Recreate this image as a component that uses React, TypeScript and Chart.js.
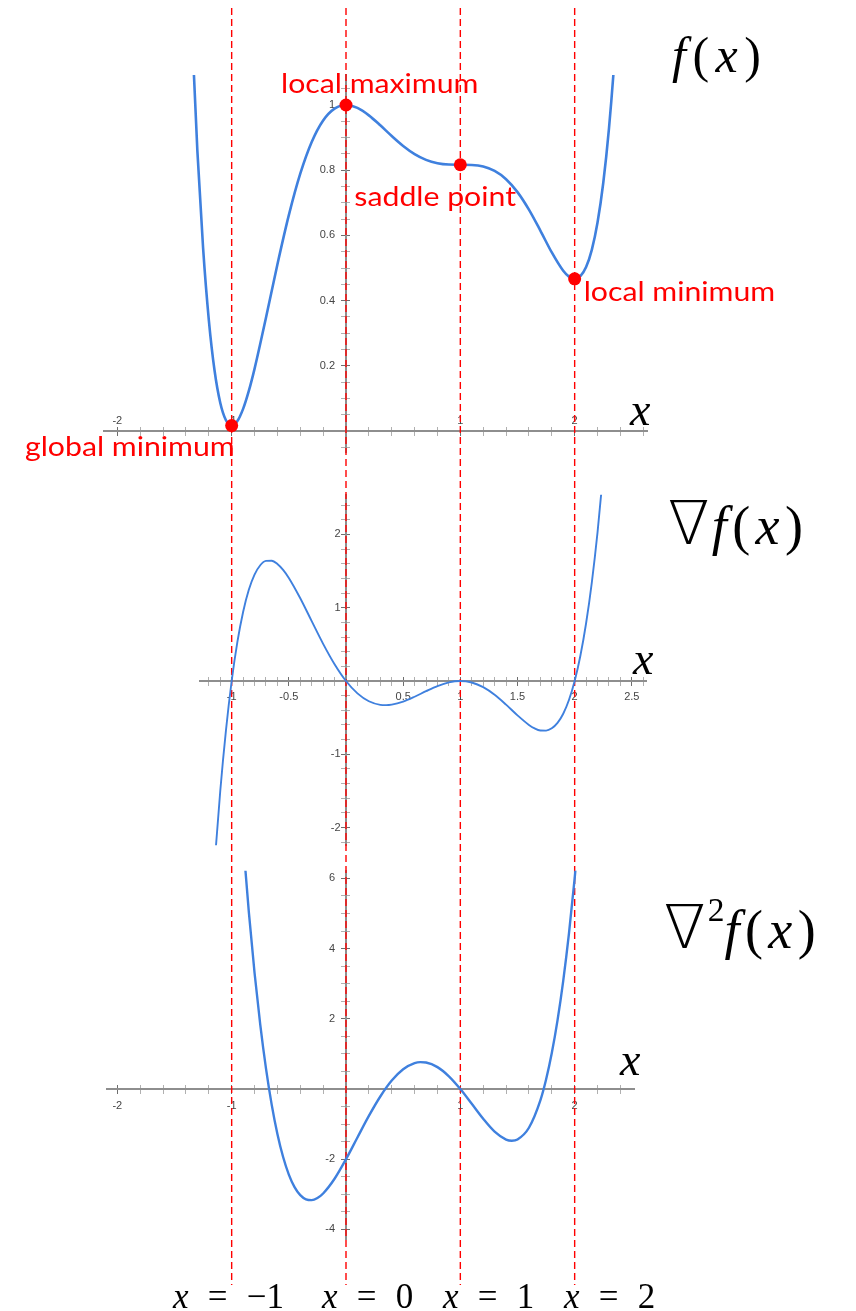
import React, { useEffect, useRef } from 'react';
import { Chart, registerables } from 'chart.js';

Chart.register(...registerables);

// ---------------- data ----------------

// f(x) sampled along x
const F_X = [-1.4, -1.35, -1.3, -1.25, -1.2, -1.15, -1.1, -1.05, -1, -0.95, -0.9, -0.85, -0.8, -0.7, -0.6, -0.5, -0.4, -0.3, -0.2, -0.1, 0, 0.1, 0.2, 0.3, 0.4, 0.5, 0.6, 0.7, 0.8, 0.9, 1, 1.1, 1.2, 1.3, 1.4, 1.5, 1.6, 1.7, 1.8, 1.9, 1.95, 2, 2.05, 2.1, 2.15, 2.2, 2.25, 2.3, 2.35, 2.4];
const F_Y = [1.7383, 1.2468, 0.8593, 0.5616, 0.3411, 0.1862, 0.0866, 0.0329, 0.0167, 0.0305, 0.0679, 0.123, 0.1907, 0.3475, 0.5108, 0.662, 0.7892, 0.8866, 0.9526, 0.989, 1, 0.991, 0.9682, 0.9377, 0.9049, 0.8745, 0.8495, 0.8318, 0.8215, 0.8173, 0.8167, 0.816, 0.8111, 0.7977, 0.7724, 0.7328, 0.6791, 0.6148, 0.5477, 0.4914, 0.4735, 0.4667, 0.4749, 0.5028, 0.5556, 0.6393, 0.7607, 0.9276, 1.1486, 1.4332];

// gradient f'(x)
const DF_X = [-1.15, -1.1, -1.05, -1, -0.95, -0.9, -0.85, -0.8, -0.75, -0.7, -0.65, -0.6, -0.55, -0.5, -0.4, -0.3, -0.2, -0.1, 0, 0.1, 0.2, 0.3, 0.35, 0.4, 0.5, 0.6, 0.7, 0.8, 0.9, 1, 1.1, 1.2, 1.3, 1.4, 1.5, 1.6, 1.65, 1.7, 1.75, 1.8, 1.85, 1.9, 1.95, 2, 2.05, 2.1, 2.15, 2.2, 2.25];
const DF_Y = [-2.5117, -1.5038, -0.6729, 0, 0.5328, 0.9422, 1.2437, 1.4515, 1.5791, 1.6386, 1.6413, 1.5974, 1.5163, 1.4063, 1.129, 0.8163, 0.5069, 0.2287, 0, -0.1693, -0.2765, -0.3249, -0.3294, -0.3226, -0.2813, -0.215, -0.1392, -0.0691, -0.0188, 0, -0.0208, -0.0845, -0.1884, -0.3226, -0.4688, -0.599, -0.6466, -0.6747, -0.6768, -0.6451, -0.5714, -0.4463, -0.2596, 0, 0.3447, 0.7877, 1.3435, 2.0275, 2.8564];

// second derivative f''(x)
const D2F_X = [-0.9, -0.85, -0.8, -0.75, -0.7, -0.65, -0.6, -0.55, -0.5, -0.45, -0.4, -0.35, -0.3, -0.25, -0.2, -0.1, 0, 0.1, 0.2, 0.3, 0.4, 0.5, 0.6, 0.65, 0.7, 0.8, 0.9, 1, 1.1, 1.2, 1.3, 1.4, 1.45, 1.5, 1.6, 1.7, 1.75, 1.8, 1.85, 1.9, 1.95, 2, 2.05];
const D2F_Y = [7.0585, 5.047, 3.312, 1.832, 0.5865, -0.4445, -1.28, -1.9385, -2.4375, -2.794, -3.024, -3.143, -3.1655, -3.1055, -2.976, -2.5575, -2, -1.3815, -0.768, -0.2135, 0.24, 0.5625, 0.736, 0.7645, 0.7545, 0.624, 0.3625, 0, -0.4215, -0.848, -1.2135, -1.44, -1.4735, -1.4375, -1.104, -0.3255, 0.2695, 1.024, 1.9555, 3.0825, 4.424, 6, 7.831];

// critical points of f
const CRIT_X = [-1, 0, 1, 2];
const CRIT_Y = [0.0167, 1, 0.8167, 0.4667];
const CRIT_NAMES = ['global minimum', 'local maximum', 'saddle point', 'local minimum'];

// vertical guides through the critical points
const GUIDE_X = [-1, 0, 1, 2];
const GUIDE_NAMES = ['\u22121', '0', '1', '2'];

// labelled tick values
const F_XTICKS = [-2, -1, 1, 2];
const F_YTICKS = [0.2, 0.4, 0.6, 0.8, 1];
const DF_XTICKS = [-1, -0.5, 0.5, 1, 1.5, 2, 2.5];
const DF_YTICKS = [-2, -1, 1, 2];
const D2F_XTICKS = [-2, -1, 1, 2];
const D2F_YTICKS = [-4, -2, 2, 4, 6];

// ---------------- styling / layout ----------------

const PAGE_W = 856;
const PAGE_H = 1311;
const ORIGIN_X = 346; // page x of x = 0, shared by all three panels
const UNIT_X = 114.33; // px per x unit, shared by all three panels

const BLUE = '#3f80de';
const RED = '#ff0000';
const AXIS = '#8e8e8e';
const SERIF = "'Liberation Serif', 'Times New Roman', serif";
const NABLA_FONT = "'DejaVu Sans', 'DejaVu Serif', sans-serif";
const TICK_FONT = { family: "'Liberation Sans', Arial, sans-serif", size: 11 };

// text placement around each critical point: [dx, dy, align]
const CRIT_LABEL_POS: [number, number, CanvasTextAlign][] = [
  [3, 30, 'right'],
  [-65, -12, 'left'],
  [-106, 41, 'left'],
  [9, 22, 'left'],
];
const CRIT_FONT_PX = 27;
const CRIT_STRETCH = 1.12;

type Panel = {
  top: number;
  height: number;
  axisY: number;
  unitY: number;
  xMin: number;
  xMax: number;
  yMin: number;
  yMax: number;
  xStep: number;
  yStep: number;
  xTicks: number[];
  yTicks: number[];
  xLabelPad: number;
  yGap: string;
  guideTop: number;
  guideBottom: number;
  lineWidth: number;
  xs: number[];
  ys: number[];
  dots?: boolean;
};

const PANELS: Panel[] = [
  {
    top: 0, height: 470, axisY: 431, unitY: 326,
    xMin: -2.12, xMax: 2.64, yMin: -0.065, yMax: 1.092,
    xStep: 0.2, yStep: 0.05, xTicks: F_XTICKS, yTicks: F_YTICKS,
    xLabelPad: -21, yGap: '\u2002\u2002',
    guideTop: 8, guideBottom: 470, lineWidth: 2.6,
    xs: F_X, ys: F_Y, dots: true,
  },
  {
    top: 470, height: 385, axisY: 681, unitY: 73.3,
    xMin: -1.28, xMax: 2.63, yMin: -2.24, yMax: 2.54,
    xStep: 0.1, yStep: 0.2, xTicks: DF_XTICKS, yTicks: DF_YTICKS,
    xLabelPad: 5.4, yGap: '\u2002',
    guideTop: 0, guideBottom: 385, lineWidth: 1.9,
    xs: DF_X, ys: DF_Y,
  },
  {
    top: 855, height: 456, axisY: 1089, unitY: 35.1,
    xMin: -2.09, xMax: 2.52, yMin: -4.3, yMax: 6.22,
    xStep: 0.2, yStep: 0.5, xTicks: D2F_XTICKS, yTicks: D2F_YTICKS,
    xLabelPad: 6, yGap: '\u2002\u2002',
    guideTop: 0, guideBottom: 430, lineWidth: 2.4,
    xs: D2F_X, ys: D2F_Y,
  },
];

const near = (list: number[], v: number) => list.some((t) => Math.abs(t - v) < 1e-6);

function buildChart(canvas: HTMLCanvasElement, p: Panel) {
  const padLeft = ORIGIN_X + p.xMin * UNIT_X;
  const padRight = PAGE_W - (ORIGIN_X + p.xMax * UNIT_X);
  const padTop = p.axisY - p.yMax * p.unitY - p.top;
  const padBottom = p.top + p.height - (p.axisY - p.yMin * p.unitY);

  // axes sit inside the plot, so they take no layout room
  const noRoom = (s: any) => {
    if (s.isHorizontal()) s.height = 0;
    else s.width = 0;
  };
  const tickShade = (major: number[]) => (c: any) =>
    c.tick && (near(major, c.tick.value) || Math.abs(c.tick.value) < 1e-9) ? '#6e6e6e' : '#b0b0b0';

  const xCommon = {
    type: 'linear', axis: 'x', min: p.xMin, max: p.xMax,
    position: { y: 0 }, afterFit: noRoom,
  };
  const yCommon = {
    type: 'linear', axis: 'y', min: p.yMin, max: p.yMax,
    position: { x: 0 }, afterFit: noRoom,
  };
  const xTickBase = { stepSize: p.xStep, includeBounds: false, autoSkip: false, maxRotation: 0, minRotation: 0 };
  const yTickBase = { stepSize: p.yStep, includeBounds: false, autoSkip: false };

  const datasets: any[] = [
    {
      data: p.xs.map((x, i) => ({ x, y: p.ys[i] })),
      borderColor: BLUE,
      borderWidth: p.lineWidth,
      pointRadius: 0,
      cubicInterpolationMode: 'monotone',
      fill: false,
      order: 1,
    },
  ];
  if (p.dots) {
    // critical points are painted over the curve
    datasets.push({
      data: CRIT_X.map((x, i) => ({ x, y: CRIT_Y[i] })),
      showLine: false,
      pointRadius: 6.5,
      pointBackgroundColor: RED,
      pointBorderWidth: 0,
      clip: false,
      order: 0,
    });
  }

  const guides = {
    id: 'guides',
    beforeDatasetsDraw(chart: any) {
      const { ctx } = chart;
      const xs = chart.scales.x;
      ctx.save();
      ctx.strokeStyle = RED;
      ctx.lineWidth = 1.4;
      ctx.setLineDash([7, 4]);
      GUIDE_X.forEach((v) => {
        const px = xs.getPixelForValue(v);
        ctx.beginPath();
        ctx.moveTo(px, p.guideTop);
        ctx.lineTo(px, p.guideBottom);
        ctx.stroke();
      });
      ctx.restore();
    },
  };

  const critLabels = {
    id: 'critLabels',
    afterDatasetsDraw(chart: any) {
      if (!p.dots) return;
      const { ctx } = chart;
      const pts = chart.getDatasetMeta(1).data;
      pts.forEach((pt: any, i: number) => {
        const [dx, dy, align] = CRIT_LABEL_POS[i];
        ctx.save();
        ctx.translate(pt.x + dx, pt.y + dy);
        ctx.scale(CRIT_STRETCH, 1);
        ctx.font = `${CRIT_FONT_PX}px Lato, 'Open Sans', sans-serif`;
        ctx.fillStyle = RED;
        ctx.textBaseline = 'alphabetic';
        ctx.textAlign = align;
        ctx.fillText(CRIT_NAMES[i], 0, 0);
        ctx.restore();
      });
    },
  };

  return new Chart(canvas, {
    type: 'line',
    data: { datasets },
    options: {
      animation: false,
      responsive: false,
      devicePixelRatio: 1,
      events: [],
      layout: { padding: { left: padLeft, right: padRight, top: padTop, bottom: padBottom } },
      plugins: { legend: { display: false }, tooltip: { enabled: false }, title: { display: false } },
      scales: {
        x: {
          ...xCommon,
          border: { display: true, color: AXIS, width: 2 },
          grid: { drawOnChartArea: false, drawTicks: true, tickLength: 4, color: tickShade(p.xTicks), lineWidth: 1 },
          ticks: {
            ...xTickBase,
            display: true,
            padding: p.xLabelPad,
            color: '#454545',
            font: TICK_FONT,
            callback: (v: any) => {
              const m = p.xTicks.find((t) => Math.abs(t - v) < 1e-6);
              return m === undefined ? '' : String(m);
            },
          },
        },
        xUp: {
          ...xCommon,
          border: { display: false },
          grid: { drawOnChartArea: false, drawTicks: true, tickLength: -4, color: tickShade(p.xTicks), lineWidth: 1 },
          ticks: { ...xTickBase, display: false },
        },
        y: {
          ...yCommon,
          border: { display: true, color: AXIS, width: 2 },
          grid: { drawOnChartArea: false, drawTicks: true, tickLength: 4, color: tickShade(p.yTicks), lineWidth: 1 },
          ticks: {
            ...yTickBase,
            display: true,
            color: '#454545',
            font: TICK_FONT,
            callback: (v: any) => {
              const m = p.yTicks.find((t) => Math.abs(t - v) < 1e-6);
              return m === undefined ? '' : String(m) + p.yGap;
            },
          },
        },
        yRight: {
          ...yCommon,
          border: { display: false },
          grid: { drawOnChartArea: false, drawTicks: true, tickLength: -4, color: tickShade(p.yTicks), lineWidth: 1 },
          ticks: { ...yTickBase, display: false },
        },
      } as any,
    },
    plugins: [guides, critLabels],
  } as any);
}

function PanelChart({ p }: { p: Panel }) {
  const ref = useRef<HTMLCanvasElement>(null);
  useEffect(() => {
    const chart = buildChart(ref.current as HTMLCanvasElement, p);
    return () => chart.destroy();
  }, [p]);
  return (
    <canvas
      ref={ref}
      width={PAGE_W}
      height={p.height}
      style={{ position: 'absolute', left: 0, top: p.top, width: PAGE_W, height: p.height }}
    />
  );
}

function Tex(props: {
  left: number;
  top: number;
  size: number;
  clipRight?: number;
  spacing?: string;
  children: React.ReactNode;
}) {
  const { left, top, size, clipRight, spacing, children } = props;
  const style: React.CSSProperties = {
    position: 'absolute',
    left,
    top,
    fontFamily: SERIF,
    fontSize: size,
    lineHeight: 1,
    whiteSpace: 'nowrap',
    color: '#000',
    letterSpacing: spacing ?? '0.1em',
  };
  if (clipRight !== undefined) {
    style.width = clipRight - left;
    style.overflow = 'hidden';
    style.paddingBottom = '0.3em';
  }
  return <div style={style}>{children}</div>;
}

const it: React.CSSProperties = { fontStyle: 'italic' };
const nabla: React.CSSProperties = {
  fontFamily: NABLA_FONT,
  fontWeight: 200,
  fontSize: '1.12em',
  letterSpacing: 0,
  marginRight: '0.04em',
};

export default function App() {
  return (
    <div
      style={{
        position: 'absolute',
        left: 0,
        top: 0,
        width: PAGE_W,
        height: PAGE_H,
        background: '#fff',
        overflow: 'hidden',
      }}
    >
      {PANELS.map((p, i) => (
        <PanelChart key={i} p={p} />
      ))}

      {/* panel titles */}
      <Tex left={672} top={30} size={50} spacing="0.13em">
        <span style={it}>f</span>(<span style={it}>x</span>)
      </Tex>
      <Tex left={668} top={493} size={54} clipRight={813}>
        <span style={nabla}>{'\u2207'}</span>
        <span style={it}>f</span>(<span style={it}>x</span>)
      </Tex>
      <Tex left={664} top={897} size={54} clipRight={828}>
        <span style={nabla}>{'\u2207'}</span>
        <span style={{ fontSize: '0.62em', position: 'relative', top: '-0.8em', letterSpacing: 0 }}>2</span>
        <span style={it}>f</span>(<span style={it}>x</span>)
      </Tex>

      {/* x axis names */}
      <Tex left={630} top={387} size={46}>
        <span style={it}>x</span>
      </Tex>
      <Tex left={633} top={636} size={46}>
        <span style={it}>x</span>
      </Tex>
      <Tex left={620} top={1037} size={46}>
        <span style={it}>x</span>
      </Tex>

      {/* guide captions */}
      {GUIDE_X.map((g, i) => (
        <div
          key={g}
          style={{
            position: 'absolute',
            left: [173, 322, 443, 564][i],
            top: 1279,
            fontFamily: SERIF,
            fontSize: 35,
            lineHeight: 1,
            whiteSpace: 'nowrap',
            wordSpacing: '0.3em',
          }}
        >
          <span style={it}>x</span> = {GUIDE_NAMES[i]}
        </div>
      ))}
    </div>
  );
}
